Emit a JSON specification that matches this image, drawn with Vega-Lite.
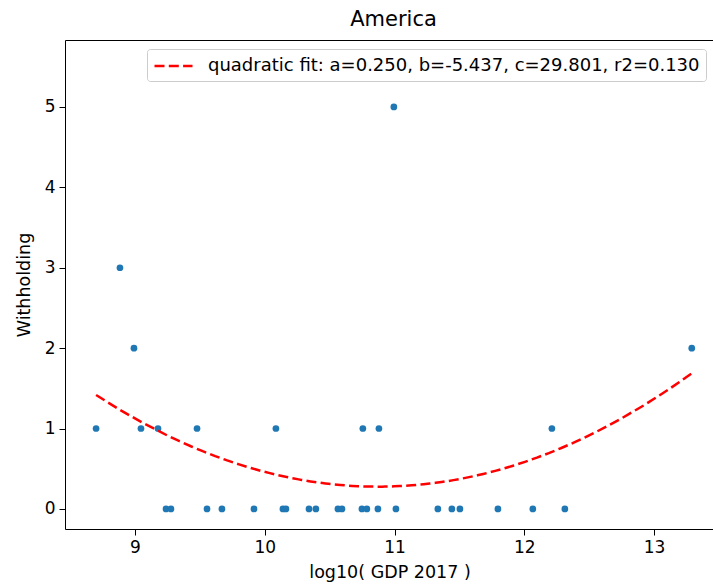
{
  "$schema": "https://vega.github.io/schema/vega-lite/v6.json",
  "width": 649,
  "height": 489,
  "autosize": {"type": "none"},
  "padding": {"left": 65, "top": 40, "right": -1, "bottom": 58},
  "background": "white",
  "config": {
    "view": {"stroke": "black", "strokeWidth": 1},
    "font": "DejaVu Sans",
    "axis": {
      "grid": false,
      "domain": false,
      "tickColor": "black",
      "tickSize": 6,
      "tickWidth": 1,
      "labelFont": "DejaVu Sans",
      "labelFontSize": 17,
      "labelColor": "black",
      "labelPadding": 4,
      "titleFont": "DejaVu Sans",
      "titleFontSize": 17.5,
      "titleFontWeight": "normal",
      "titleColor": "black"
    }
  },
  "title": {
    "text": "America",
    "font": "DejaVu Sans",
    "fontSize": 21,
    "fontWeight": "normal",
    "color": "black",
    "offset": 10,
    "dx": 4
  },
  "data": {
    "values": [
      {"logGDP": 8.700, "Withholding": 1},
      {"logGDP": 8.884, "Withholding": 3},
      {"logGDP": 8.992, "Withholding": 2},
      {"logGDP": 9.046, "Withholding": 1},
      {"logGDP": 9.177, "Withholding": 1},
      {"logGDP": 9.239, "Withholding": 0},
      {"logGDP": 9.277, "Withholding": 0},
      {"logGDP": 9.478, "Withholding": 1},
      {"logGDP": 9.555, "Withholding": 0},
      {"logGDP": 9.670, "Withholding": 0},
      {"logGDP": 9.917, "Withholding": 0},
      {"logGDP": 10.086, "Withholding": 1},
      {"logGDP": 10.140, "Withholding": 0},
      {"logGDP": 10.163, "Withholding": 0},
      {"logGDP": 10.341, "Withholding": 0},
      {"logGDP": 10.394, "Withholding": 0},
      {"logGDP": 10.564, "Withholding": 0},
      {"logGDP": 10.595, "Withholding": 0},
      {"logGDP": 10.749, "Withholding": 0},
      {"logGDP": 10.756, "Withholding": 1},
      {"logGDP": 10.787, "Withholding": 0},
      {"logGDP": 10.872, "Withholding": 0},
      {"logGDP": 10.880, "Withholding": 1},
      {"logGDP": 10.995, "Withholding": 5},
      {"logGDP": 11.011, "Withholding": 0},
      {"logGDP": 11.334, "Withholding": 0},
      {"logGDP": 11.442, "Withholding": 0},
      {"logGDP": 11.504, "Withholding": 0},
      {"logGDP": 11.797, "Withholding": 0},
      {"logGDP": 12.066, "Withholding": 0},
      {"logGDP": 12.213, "Withholding": 1},
      {"logGDP": 12.313, "Withholding": 0},
      {"logGDP": 13.291, "Withholding": 2}
    ]
  },
  "layer": [
    {
      "mark": {"type": "point", "filled": true, "size": 45, "color": "#1f77b4", "opacity": 1},
      "encoding": {
        "x": {
          "field": "logGDP",
          "type": "quantitative",
          "scale": {"domain": [8.4605, 13.4624], "nice": false, "zero": false},
          "axis": {"values": [9, 10, 11, 12, 13], "format": "d", "title": "log10( GDP 2017 )", "titlePadding": 8}
        },
        "y": {
          "field": "Withholding",
          "type": "quantitative",
          "scale": {"domain": [-0.25, 5.833], "nice": false, "zero": false},
          "axis": {"values": [0, 1, 2, 3, 4, 5], "format": "d", "title": "Withholding", "titlePadding": 11}
        }
      }
    },
    {
      "transform": [
        {"regression": "Withholding", "on": "logGDP", "method": "poly", "order": 2}
      ],
      "mark": {"type": "line", "strokeDash": [10, 4.3], "strokeWidth": 2.5},
      "encoding": {
        "x": {"field": "logGDP", "type": "quantitative"},
        "y": {"field": "Withholding", "type": "quantitative"},
        "color": {
          "datum": "quadratic fit: a=0.250, b=-5.437, c=29.801, r2=0.130",
          "type": "nominal",
          "scale": {"range": ["#ff0000"]},
          "legend": {
            "orient": "none",
            "legendX": 82,
            "legendY": 9,
            "title": null,
            "symbolType": "M-1,0H3",
            "symbolSize": 361,
            "symbolStrokeWidth": 2.5,
            "symbolDash": [10, 4.3],
            "labelFont": "DejaVu Sans",
            "labelFontSize": 18,
            "labelColor": "black",
            "labelLimit": 1000,
            "labelOffset": 33,
            "padding": 6,
            "strokeColor": "#cccccc",
            "fillColor": "white",
            "cornerRadius": 3
          }
        }
      }
    }
  ]
}
